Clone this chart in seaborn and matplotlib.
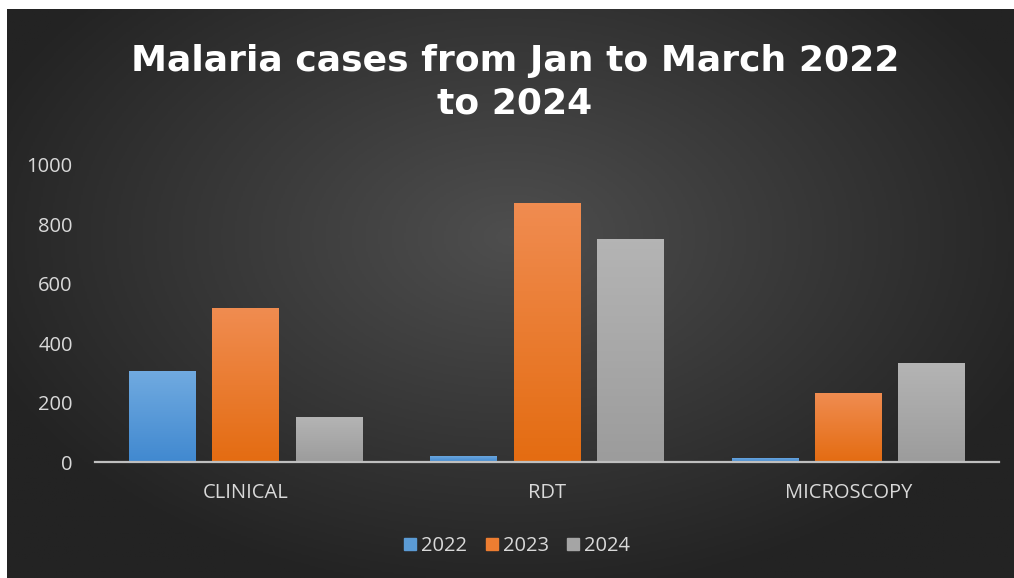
import numpy as np
import pandas as pd
import matplotlib.pyplot as plt
import seaborn as sns
from matplotlib.colors import LinearSegmentedColormap

# Data
categories = ["CLINICAL", "RDT", "MICROSCOPY"]
years = ["2022", "2023", "2024"]
cases_2022 = [306, 21, 14]
cases_2023 = [518, 873, 231]
cases_2024 = [150, 750, 332]

df = pd.DataFrame({
    "Test": categories * 3,
    "Year": np.repeat(years, len(categories)),
    "Cases": cases_2022 + cases_2023 + cases_2024,
})

sns.set_theme(style="dark")
plt.rcParams['font.family'] = ['Open Sans', 'DejaVu Sans']

fig = plt.figure(figsize=(10.14, 5.78), dpi=100, facecolor="white")

# dark radial background
bg = fig.add_axes([7 / 1014, 0, 1 - 7 / 1014, 1 - 9 / 578])
yy, xx = np.mgrid[0:1:300j, 0:1:500j]
r = np.sqrt(((xx - 0.5) / 0.75) ** 2 + ((yy - 0.4) / 0.85) ** 2)
bg_cmap = LinearSegmentedColormap.from_list("bg", ["#4e4e4e", "#232323"])
bg.imshow(r, cmap=bg_cmap, aspect="auto", extent=[0, 1, 0, 1], vmin=0, vmax=0.75)
bg.axis("off")

ax = fig.add_axes([95 / 1014, 116 / 578, 904 / 1014, 297 / 578])
ax.patch.set_alpha(0)

palette = {"2022": "#5b9bd5", "2023": "#ed7d31", "2024": "#a5a5a5"}
grad = {
    "2022": ("#70aae0", "#4189d0"),
    "2023": ("#f08c50", "#e46c12"),
    "2024": ("#b4b4b4", "#9c9c9c"),
}
sns.barplot(data=df, x="Test", y="Cases", hue="Year", palette=palette,
            width=0.83, gap=0.2, saturation=1, linewidth=0, edgecolor="none", ax=ax)

# vertical gradient on each bar
for year, container in zip(years, ax.containers):
    top, bottom = grad[year]
    cmap = LinearSegmentedColormap.from_list("g" + year, [bottom, top])
    for bar in container:
        x0, w, h = bar.get_x(), bar.get_width(), bar.get_height()
        im = ax.imshow(np.linspace(0, 1, 64).reshape(-1, 1), cmap=cmap,
                       extent=[x0, x0 + w, 0, h], origin="lower",
                       aspect="auto", zorder=bar.get_zorder() + 0.1)
        im.set_clip_path(bar)

ax.set_xlim(-0.5, 2.5)
ax.set_ylim(0, 1000)
ax.set_yticks(range(0, 1001, 200))
ax.set_xlabel("")
ax.set_ylabel("")
ax.grid(False)
for s in ["top", "right", "left"]:
    ax.spines[s].set_visible(False)
ax.spines["bottom"].set_color("#bfbfbf")
ax.spines["bottom"].set_linewidth(1.6)
ax.spines["bottom"].set_zorder(5)
ax.tick_params(axis="both", colors="#d9d9d9", labelsize=14.5, length=0)
ax.tick_params(axis="y", pad=16)
ax.tick_params(axis="x", pad=15)

ax.legend_.remove()
handles = [plt.Rectangle((0, 0), 1, 1, color=palette[y]) for y in years]
leg = fig.legend(handles, years, loc="center", bbox_to_anchor=(0.51, 1 - 546 / 578),
                 ncol=3, frameon=False, fontsize=14.5, handlelength=0.6,
                 handleheight=0.6, handletextpad=0.25, columnspacing=0.9)
for t in leg.get_texts():
    t.set_color("#d9d9d9")

fig.text(0.508, 1 - 82 / 578, "Malaria cases from Jan to March 2022\nto 2024",
         ha="center", va="center", fontsize=26, fontweight="bold",
         family=["DejaVu Sans"], color="white", linespacing=1.3)

plt.savefig("out.png", dpi=100)
